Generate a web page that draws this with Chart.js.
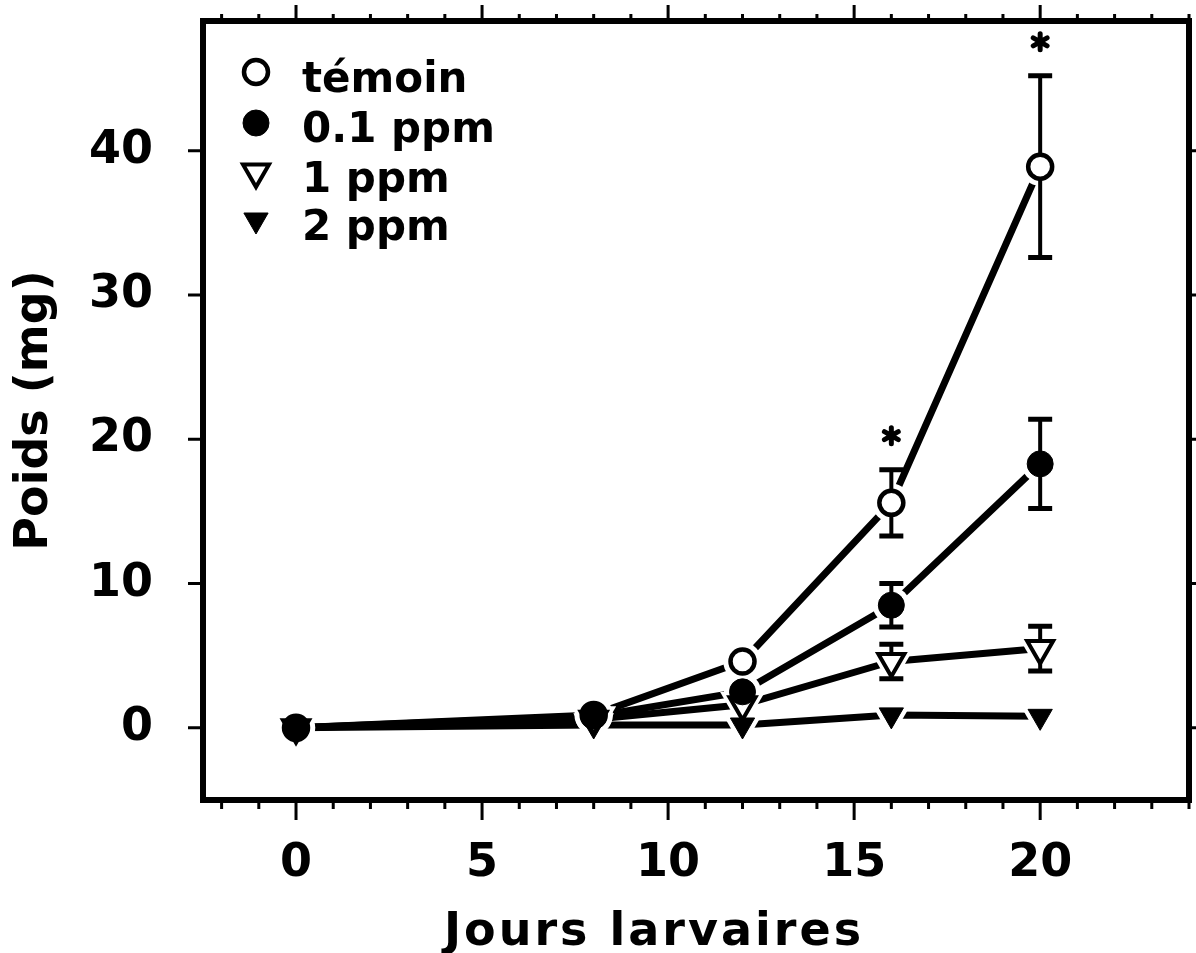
<!DOCTYPE html>
<html>
<head>
<meta charset="utf-8">
<script src="https://cdn.jsdelivr.net/npm/chart.js@4.4.0/dist/chart.umd.min.js"></script>
<style>
  html, body { margin: 0; padding: 0; background: #fff; }
</style>
</head>
<body>
<canvas id="poids" width="1196" height="953"></canvas>
<script>
// jours larvaires et poids moyens (mg) par traitement
const jours = [0, 8, 12, 16, 20];
const temoin = [0, 0.9, 4.6, 15.6, 38.9];
const temoinErr = [0, 0, 0, 2.3, 6.3];
const ppm01 = [0, 0.8, 2.5, 8.5, 18.3];
const ppm01Err = [0, 0, 0, 1.5, 3.1];
const ppm1 = [0, 0.6, 1.6, 4.6, 5.5];
const ppm1Err = [0, 0, 0, 1.2, 1.55];
const ppm2 = [0, 0.2, 0.2, 0.9, 0.8];
const signif = [16, 20];          // jours marqués d'un astérisque (témoin)
const xTicks = [0, 5, 10, 15, 20];
const yTicks = [0, 10, 20, 30, 40];

const FONT = "'DejaVu Sans', sans-serif";
const H = Chart.helpers;

// style des symboles ; layer = ordre de dessin (petit = dessus)
const series = [
  {label: 'témoin',  data: temoin, err: temoinErr, style: 'circle',   fill: '#fff', r: 12, bw: 4.5, layer: 4},
  {label: '0.1 ppm', data: ppm01,  err: ppm01Err,  style: 'circle',   fill: '#000', r: 13, bw: 1,   layer: 1},
  {label: '1 ppm',   data: ppm1,   err: ppm1Err,   style: 'triangle', fill: '#fff', r: 15, bw: 4,   layer: 2},
  {label: '2 ppm',   data: ppm2,   err: null,      style: 'triangle', fill: '#000', r: 14, bw: 1,   layer: 3},
];

const pts = vals => jours.map((j, i) => ({x: j, y: vals[i]}));

const lineSets = series.map(s => ({
  label: s.label, data: pts(s.data), showLine: true,
  borderColor: '#000', borderWidth: 7, pointRadius: 0, pointHoverRadius: 0,
  borderJoinStyle: 'round', order: 10
}));

const topLayer = Math.max(...series.map(s => s.layer));
const markerSets = series.map(s => ({
  label: s.label, data: pts(s.data), showLine: false,
  pointStyle: s.style, pointRotation: s.style === 'triangle' ? 180 : 0,
  pointRadius: s.r, pointHoverRadius: s.r, pointBorderWidth: s.bw,
  pointBackgroundColor: s.fill, pointBorderColor: '#000',
  order: s.layer, marker: true, err: s.err, values: s.data, first: s.layer === topLayer
}));

// dessine un symbole (extra > 0 : halo blanc sans contour)
function symbol(ctx, ds, x, y, extra) {
  const o = {
    pointStyle: ds.pointStyle, rotation: ds.pointRotation,
    radius: ds.pointRadius + (extra || 0), borderWidth: extra ? 0 : ds.pointBorderWidth
  };
  ctx.lineWidth = o.borderWidth;
  H.drawPoint(ctx, o, x, y);
}

const noPad = s => { s.paddingTop = s.paddingBottom = s.paddingLeft = s.paddingRight = 0; };

// blanc autour des symboles, barres d'erreur, cadre, légende, titres
const decor = {
  id: 'decor',
  beforeDatasetDraw(chart, args) {
    const ds = chart.data.datasets[args.index];
    if (!ds.first) return;
    const ctx = chart.ctx, xs = chart.scales.x, ys = chart.scales.y;
    ctx.save();
    ctx.fillStyle = '#fff';
    chart.data.datasets.forEach((d, i) => {
      if (!d.marker) return;
      const gap = d.pointBorderWidth / 2 + (d.pointStyle === 'triangle' ? 9 : 5);
      chart.getDatasetMeta(i).data.forEach(p => symbol(ctx, d, p.x, p.y, gap));
    });
    ctx.strokeStyle = '#000';
    chart.data.datasets.forEach(d => {
      if (!d.marker || !d.err) return;
      jours.forEach((j, i) => {
        const e = d.err[i];
        if (!e) return;
        const x = xs.getPixelForValue(j);
        const y1 = ys.getPixelForValue(d.values[i] + e);
        const y2 = ys.getPixelForValue(d.values[i] - e);
        ctx.lineWidth = 4;
        ctx.beginPath(); ctx.moveTo(x, y1); ctx.lineTo(x, y2); ctx.stroke();
        ctx.lineWidth = 5;
        ctx.beginPath();
        ctx.moveTo(x - 12, y1); ctx.lineTo(x + 12, y1);
        ctx.moveTo(x - 12, y2); ctx.lineTo(x + 12, y2);
        ctx.stroke();
      });
    });
    ctx.restore();
  },
  afterDraw(chart) {
    const ctx = chart.ctx, a = chart.chartArea, xs = chart.scales.x, ys = chart.scales.y;
    ctx.save();
    ctx.strokeStyle = '#000';
    ctx.fillStyle = '#000';

    // astérisques au-dessus des barres du témoin
    ctx.lineCap = 'round';
    signif.forEach(j => {
      const i = jours.indexOf(j);
      const x = xs.getPixelForValue(j);
      const y = ys.getPixelForValue(temoin[i] + temoinErr[i]) - 34;
      ctx.lineWidth = 5;
      ctx.beginPath();
      for (let k = 0; k < 3; k++) {
        const t = k * Math.PI / 3 + Math.PI / 2;
        ctx.moveTo(x - 8 * Math.cos(t), y - 8 * Math.sin(t));
        ctx.lineTo(x + 8 * Math.cos(t), y + 8 * Math.sin(t));
      }
      ctx.stroke();
    });
    ctx.lineCap = 'butt';

    // cadre
    ctx.lineWidth = 6;
    ctx.strokeRect(a.left, a.top, a.right - a.left, a.bottom - a.top);

    // graduations extérieures
    ctx.lineWidth = 3;
    ctx.beginPath();
    for (let v = Math.ceil(xs.min); v <= xs.max; v++) {
      const x = xs.getPixelForValue(v);
      const major = v % 5 === 0;
      ctx.moveTo(x, a.bottom); ctx.lineTo(x, a.bottom + (major ? 20 : 9));
      ctx.moveTo(x, a.top); ctx.lineTo(x, a.top - (major ? 16 : 7));
    }
    yTicks.forEach(v => {
      const y = ys.getPixelForValue(v);
      ctx.moveTo(a.left, y); ctx.lineTo(a.left - 15, y);
      ctx.moveTo(a.right, y); ctx.lineTo(a.right + 8, y);
    });
    ctx.stroke();

    // légende
    const lx = 256, ly = [72, 123, 172, 220], tb = [92, 142, 192, 240];
    ctx.font = 'bold 42px ' + FONT;
    ctx.textAlign = 'left';
    ctx.textBaseline = 'alphabetic';
    chart.data.datasets.filter(d => d.marker).forEach((d, k) => {
      ctx.fillStyle = d.pointBackgroundColor;
      symbol(ctx, d, lx, ly[k]);
      ctx.fillStyle = '#000';
      ctx.fillText(d.label, 302, tb[k]);
    });

    // titres des axes
    ctx.font = 'bold 46px ' + FONT;
    ctx.textAlign = 'center';
    ctx.letterSpacing = '3px';
    ctx.fillText('Jours larvaires', 654, 945);
    ctx.letterSpacing = '0px';
    ctx.translate(47, (a.top + a.bottom) / 2);
    ctx.rotate(-Math.PI / 2);
    ctx.fillText('Poids (mg)', 0, 0);
    ctx.restore();
  }
};

new Chart(document.getElementById('poids'), {
  type: 'scatter',
  data: {datasets: [...lineSets, ...markerSets]},
  options: {
    responsive: false,
    animation: false,
    events: [],
    layout: {autoPadding: false, padding: {top: 21, right: 7, left: 0, bottom: 0}},
    plugins: {legend: {display: false}, tooltip: {enabled: false}},
    scales: {
      x: {
        type: 'linear', min: -2.5, max: 24,
        grid: {display: false, drawTicks: false}, border: {display: false},
        afterBuildTicks: s => { s.ticks = xTicks.map(v => ({value: v})); },
        afterFit: s => { s.height = 153; noPad(s); },
        ticks: {color: '#000', padding: 36, font: {family: FONT, size: 46, weight: 'bold'}}
      },
      y: {
        type: 'linear', min: -5, max: 49,
        grid: {display: false, drawTicks: false}, border: {display: false},
        afterBuildTicks: s => { s.ticks = yTicks.map(v => ({value: v})); },
        afterFit: s => { s.width = 203; noPad(s); },
        ticks: {color: '#000', padding: 50, font: {family: FONT, size: 46, weight: 'bold'}}
      }
    }
  },
  plugins: [decor]
});
</script>
</body>
</html>
